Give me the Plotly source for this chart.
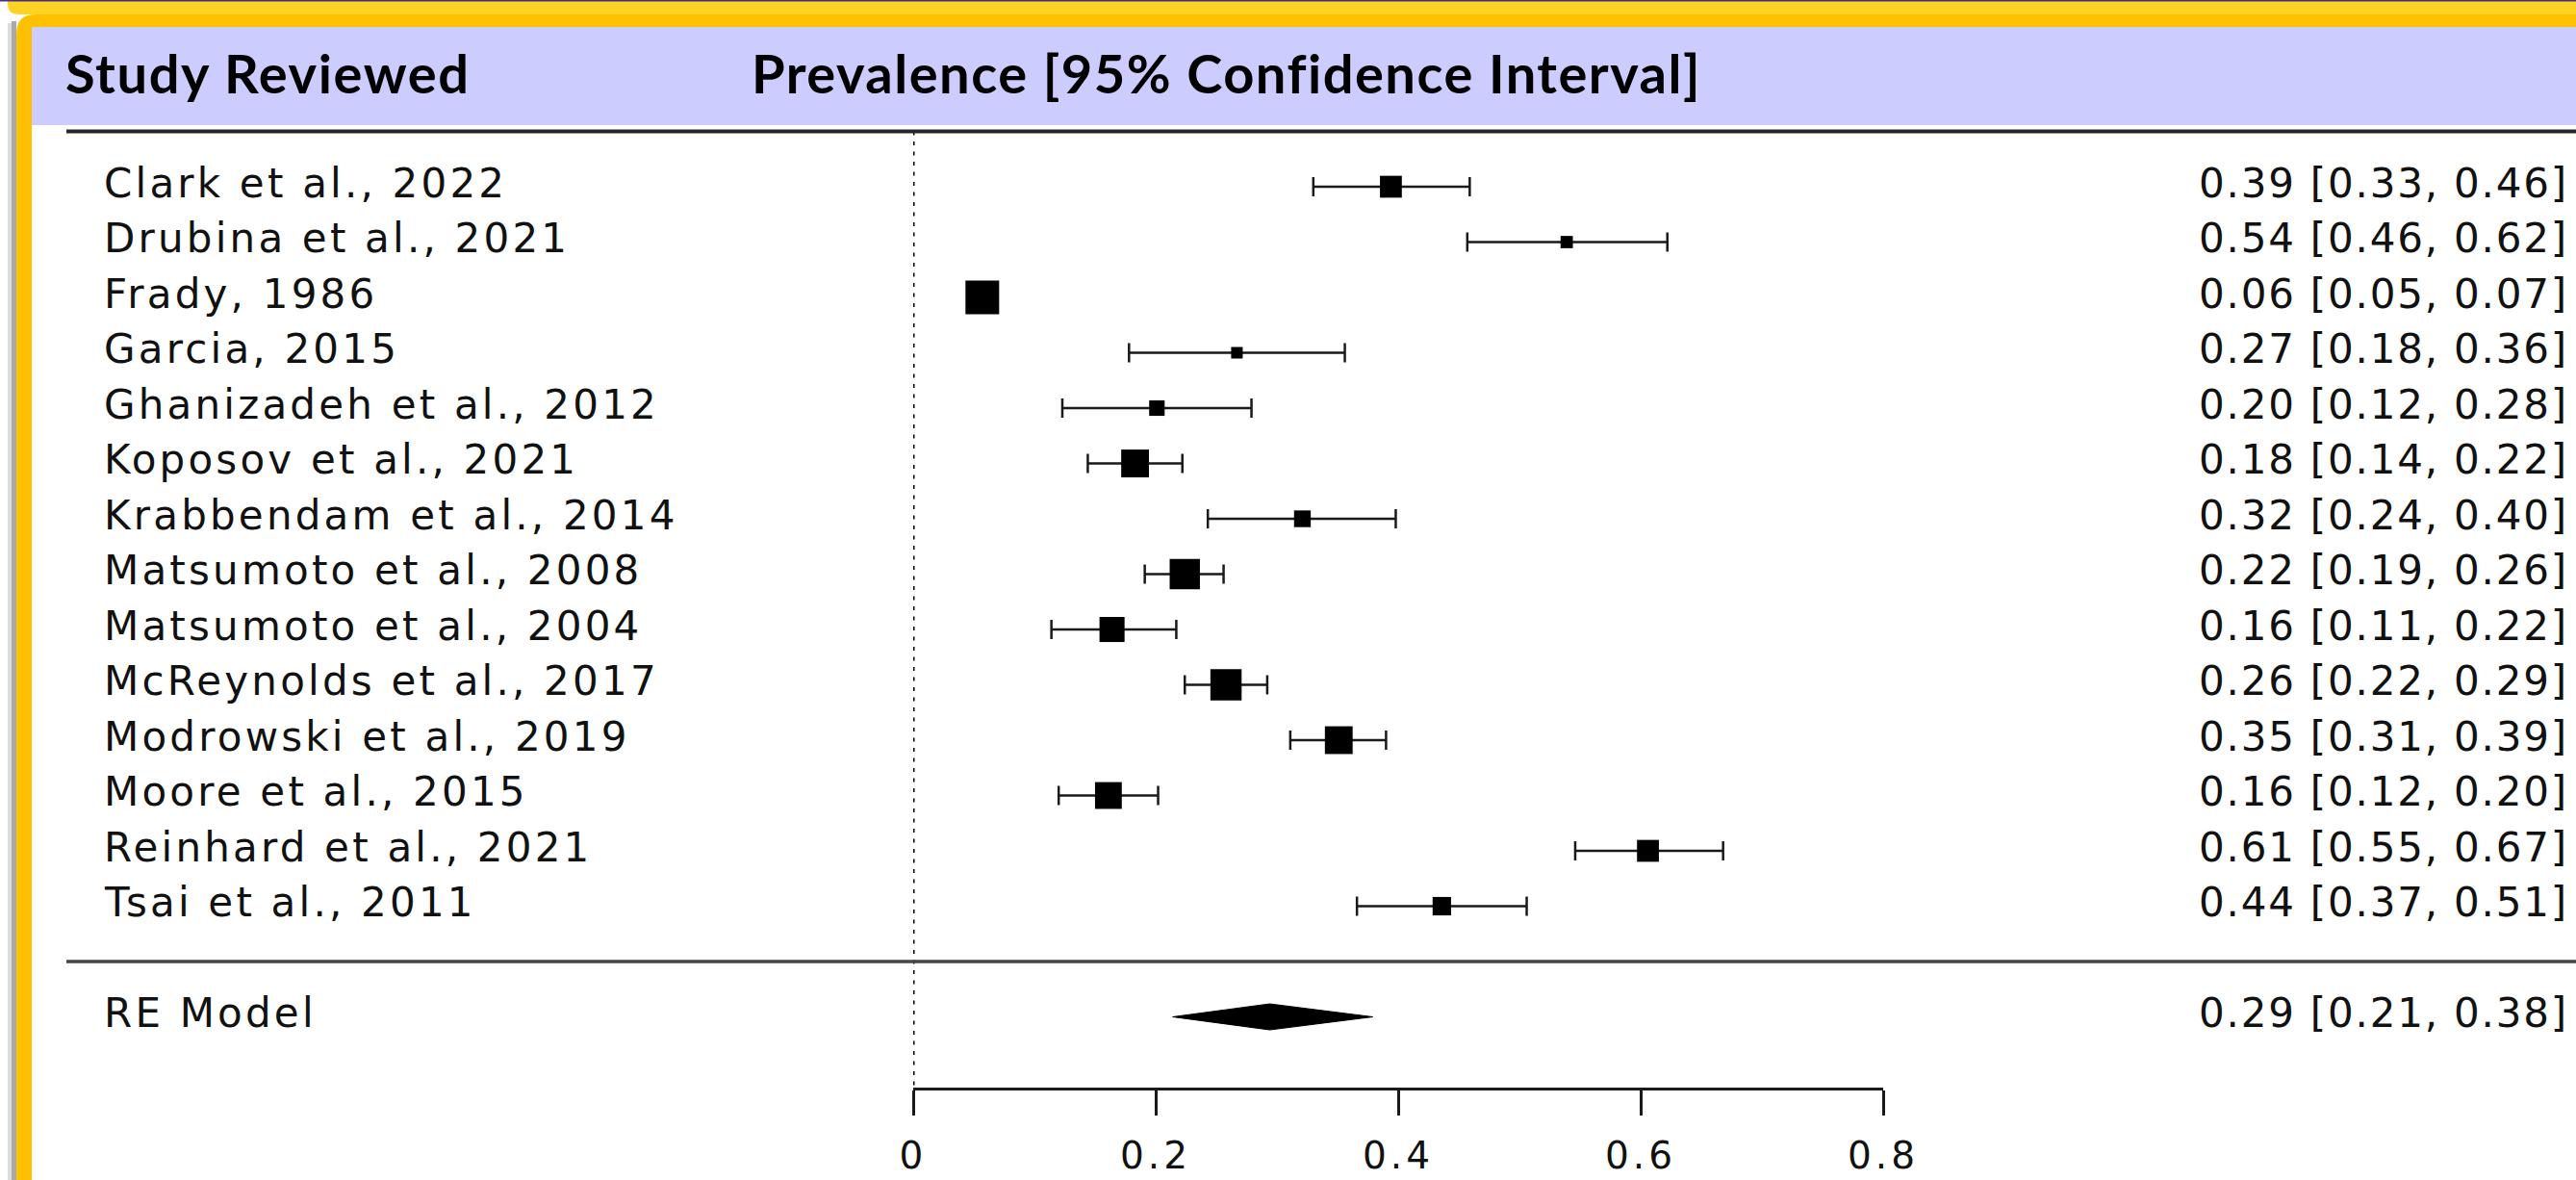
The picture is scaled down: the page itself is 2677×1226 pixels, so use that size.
import plotly.graph_objects as go

W, H = 2677, 1226

# ---------------- data ----------------
studies = ["Clark et al., 2022", "Drubina et al., 2021", "Frady, 1986", "Garcia, 2015",
           "Ghanizadeh et al., 2012", "Koposov et al., 2021", "Krabbendam et al., 2014",
           "Matsumoto et al., 2008", "Matsumoto et al., 2004", "McReynolds et al., 2017",
           "Modrowski et al., 2019", "Moore et al., 2015", "Reinhard et al., 2021",
           "Tsai et al., 2011"]
estimate = [0.394, 0.539, 0.057, 0.267, 0.201, 0.183, 0.321, 0.224, 0.164, 0.258,
            0.351, 0.161, 0.606, 0.436]
ci_lower = [0.330, 0.457, 0.048, 0.178, 0.123, 0.144, 0.243, 0.191, 0.114, 0.224,
            0.311, 0.120, 0.546, 0.366]
ci_upper = [0.459, 0.622, 0.068, 0.356, 0.279, 0.222, 0.398, 0.256, 0.217, 0.292,
            0.390, 0.202, 0.668, 0.506]
weights = [7.02, 6.63, 7.50, 6.60, 6.76, 7.26, 6.81, 7.36, 7.15, 7.40, 7.26, 7.22,
           7.02, 6.88]

re_label = "RE Model"
re_estimate = 0.294
re_lower = 0.214
re_upper = 0.379

x_ticks = [0, 0.2, 0.4, 0.6, 0.8]
x_tick_labels = ["0", "0.2", "0.4", "0.6", "0.8"]

header_left = "Study Reviewed"
header_right = "Prevalence [95% Confidence Interval]"

# ---------------- helpers ----------------
def px(x):
    return x / W

def py(y):
    return 1 - y / H

def spaced(text, sp):
    return "<span style='letter-spacing:%.1fpx'>%s</span>" % (sp, text)

k = len(studies)
rows = [k - i for i in range(k)]
re_row = -1
y_min, y_max = -2.278, 17.374
x_dom = [px(949), px(1957)]
y_dom = [py(1130), 1.0]

LABEL_FONT = dict(family="DejaVu Sans", size=42, color="#111111")
TICK_FONT = dict(family="DejaVu Sans", size=39, color="#111111")
LEFT_SP = 3.2
RIGHT_SP = 1.8

wmin, wmax = min(weights), max(weights)
sizes = [12 + (w - wmin) / (wmax - wmin) * 23 for w in weights]

fig = go.Figure()

# dotted reference line at 0
fig.add_trace(go.Scatter(
    x=[0, 0], y=[k + 1, y_min], mode="lines",
    line=dict(color="#000000", width=3, dash="4px,6.5px"),
    hoverinfo="skip", showlegend=False, cliponaxis=False))

# confidence intervals
fig.add_trace(go.Scatter(
    x=estimate, y=rows, mode="markers",
    marker=dict(size=1, opacity=0),
    error_x=dict(type="data", symmetric=False,
                 array=[u - e for u, e in zip(ci_upper, estimate)],
                 arrayminus=[e - l for e, l in zip(estimate, ci_lower)],
                 thickness=2.5, width=10, color="#1a1a1a"),
    showlegend=False, cliponaxis=False, hoverinfo="skip"))

# point estimates (size by weight)
fig.add_trace(go.Scatter(
    x=estimate, y=rows, mode="markers",
    marker=dict(symbol="square", size=sizes, color="#000000", opacity=1,
                line=dict(width=0)),
    showlegend=False, cliponaxis=False))

# RE diamond
dh = 0.235
fig.add_trace(go.Scatter(
    x=[re_lower, re_estimate, re_upper, re_estimate, re_lower],
    y=[re_row, re_row + dh, re_row, re_row - dh, re_row],
    mode="lines", fill="toself", fillcolor="black",
    line=dict(color="black", width=1), showlegend=False, cliponaxis=False))

# ---------------- frame / header shapes ----------------
shapes = []
def rect(x0, y0, x1, y1, color):
    shapes.append(dict(type="rect", xref="paper", yref="paper",
                       x0=px(x0), x1=px(x1), y0=py(y1), y1=py(y0),
                       fillcolor=color, line=dict(width=0), layer="below"))

# top light-yellow bar with rounded lower-left corner
shapes.append(dict(type="path", xref="paper", yref="paper",
                   path=("M %f,%f L %f,%f L %f,%f L %f,%f Q %f,%f %f,%f Z" % (
                       px(8), py(0), px(W), py(0), px(W), py(15), px(20), py(15),
                       px(8), py(15), px(8), py(4))),
                   fillcolor="#FFD324", line=dict(width=0), layer="below"))
rect(0, 0, W, 1.5, "#4B2D7F")
# shadow
rect(8, 24, 12, H, "#dcdcdc")
rect(12, 22, 17, H, "#aaaaaa")
# yellow frame with rounded top-left corner
shapes.append(dict(type="path", xref="paper", yref="paper",
                   path=("M %f,%f L %f,%f Q %f,%f %f,%f L %f,%f L %f,%f Z" % (
                       px(17), py(H), px(17), py(35), px(17), py(15), px(37), py(15),
                       px(W), py(15), px(W), py(H))),
                   fillcolor="#FFC000", line=dict(width=0), layer="below"))
rect(33, 28, W, H, "white")
rect(33, 28, W, 130, "#CCCCFF")

# horizontal rules (header and separator)
shapes.append(dict(type="line", xref="paper", yref="y", x0=px(69), x1=1,
                   y0=k + 1, y1=k + 1, line=dict(color="#262626", width=4)))
shapes.append(dict(type="line", xref="paper", yref="y", x0=px(69), x1=1,
                   y0=0, y1=0, line=dict(color="#444444", width=3.5)))

# ---------------- annotations ----------------
ann = []
HEAD_FONT = dict(family="Lato", size=56, color="black", weight="bold")
ann.append(dict(text=spaced(header_left, 1.6), x=px(66), y=py(76), xref="paper",
                yref="paper", xanchor="left", yanchor="middle", showarrow=False,
                font=HEAD_FONT))
ann.append(dict(text=spaced(header_right, 1.5), x=px(779), y=py(76), xref="paper",
                yref="paper", xanchor="left", yanchor="middle", showarrow=False,
                font=HEAD_FONT))

for r, name, e, l, u in zip(rows, studies, estimate, ci_lower, ci_upper):
    ann.append(dict(text=spaced(name, LEFT_SP), x=px(106), y=r, xref="paper", yref="y",
                    xanchor="left", yanchor="middle", yshift=4, showarrow=False,
                    font=LABEL_FONT))
    ann.append(dict(text=spaced("%.2f [%.2f, %.2f]" % (e, l, u), RIGHT_SP), x=px(2283),
                    y=r, xref="paper", yref="y", xanchor="left", yanchor="middle",
                    yshift=4, showarrow=False, font=LABEL_FONT))

ann.append(dict(text=spaced(re_label, LEFT_SP), x=px(106), y=re_row, xref="paper",
                yref="y", xanchor="left", yanchor="middle", yshift=4, showarrow=False,
                font=LABEL_FONT))
ann.append(dict(text=spaced("%.2f [%.2f, %.2f]" % (re_estimate, re_lower, re_upper),
                            RIGHT_SP),
                x=px(2283), y=re_row, xref="paper", yref="y", xanchor="left",
                yanchor="middle", yshift=4, showarrow=False, font=LABEL_FONT))

fig.update_layout(
    width=W, height=H, autosize=False,
    margin=dict(l=0, r=0, t=0, b=0, pad=0, autoexpand=False),
    paper_bgcolor="white", plot_bgcolor="rgba(0,0,0,0)",
    shapes=shapes, annotations=ann, showlegend=False,
    xaxis=dict(domain=x_dom, range=[0, 0.8], showgrid=False, zeroline=False,
               automargin=False,
               showline=True, linecolor="#1a1a1a", linewidth=2.5,
               ticks="outside", ticklen=26, tickwidth=2.5, tickcolor="#1a1a1a",
               tickvals=x_ticks, ticktext=[spaced(t, 4) for t in x_tick_labels],
               tickfont=TICK_FONT, ticklabelstandoff=8, fixedrange=True),
    yaxis=dict(domain=y_dom, range=[y_min, y_max], visible=False, fixedrange=True,
               automargin=False),
)

fig.write_html("out.html",
               config={"displayModeBar": False, "responsive": False},
               post_script="document.body.style.margin='0';"
                           "document.body.style.overflow='hidden';")
